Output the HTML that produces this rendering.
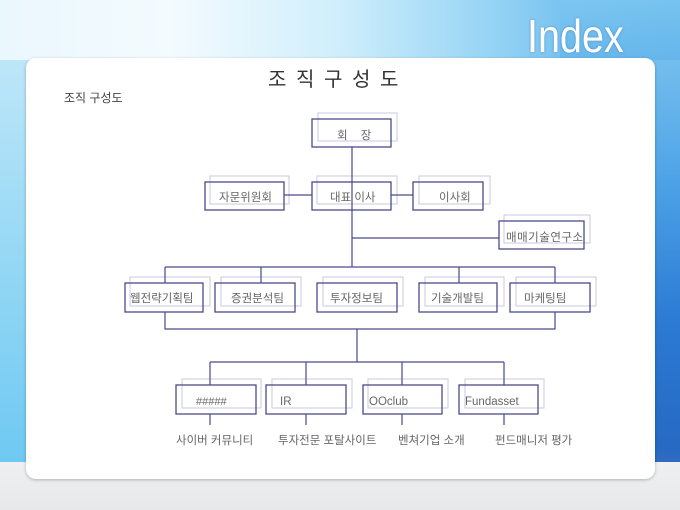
<!DOCTYPE html>
<html><head><meta charset="utf-8">
<style>
html,body{margin:0;padding:0;}
body{width:680px;height:510px;overflow:hidden;position:relative;
background:linear-gradient(180deg,#e9f6fc 0%,#cdeefb 30%,#9fdcf6 60%,#8fd2f3 88%,#eef0f2 90%,#e8eaec 100%);}
.bgr{position:absolute;right:0;top:0;width:120px;height:462px;background:linear-gradient(180deg,#7cc6f0 0%,#3f9ae4 40%,#1f6fd0 70%,#1a5cbc 100%);opacity:.9}
.bgt{position:absolute;left:0;top:0;width:680px;height:60px;background:linear-gradient(90deg,#eaf7fd 0%,#f4fbff 25%,#cfeefb 50%,#8fd0f4 75%,#4aa4e6 100%)}
.bgl{position:absolute;left:0;top:60px;width:30px;height:402px;background:linear-gradient(180deg,#bde6f8,#6ec9f2)}
.bgb{position:absolute;left:0;top:462px;width:680px;height:48px;background:linear-gradient(180deg,#eef0f2,#e6e8ea)}
.panel{position:absolute;left:26px;top:58px;width:629px;height:421px;background:#fff;border-radius:10px;box-shadow:0 1px 3px rgba(0,0,0,.25)}
.idx{position:absolute;left:527px;top:9px;font:46px "Liberation Sans",sans-serif;color:#fff;transform:scaleX(.86);transform-origin:left top;text-shadow:0 0 3px rgba(40,100,180,.5)}
svg{position:absolute;left:0;top:0}
text{font-family:"Liberation Sans","Noto Sans CJK KR","NanumGothic",sans-serif;}
</style></head><body>
<div class="bgt"></div><div class="bgl"></div><div class="bgr"></div><div class="bgb"></div>
<div class="panel"></div>
<div class="idx">Index</div>
<svg width="680" height="510" viewBox="0 0 680 510">
<g fill="#333" font-size="20">
<text x="268" y="86">조</text><text x="296" y="86">직</text><text x="324" y="86">구</text><text x="352" y="86">성</text><text x="380" y="86">도</text>
</g>
<text x="64" y="102" font-size="12" fill="#444">조직 구성도</text>
<g fill="none" stroke="#c9c9dc" stroke-width="1">
<rect x="318" y="113" width="79" height="28"/>
<rect x="210" y="176" width="79" height="28"/>
<rect x="317" y="176" width="80" height="28"/>
<rect x="419" y="176" width="71" height="28"/>
<rect x="504" y="215" width="86" height="28"/>
<rect x="130" y="277" width="80" height="29"/>
<rect x="221" y="277" width="80" height="29"/>
<rect x="323" y="277" width="80" height="29"/>
<rect x="425" y="277" width="79" height="29"/>
<rect x="516" y="277" width="80" height="29"/>
<rect x="182" y="379" width="79" height="29"/>
<rect x="272" y="379" width="80" height="29"/>
<rect x="368" y="379" width="80" height="29"/>
<rect x="465" y="379" width="79" height="29"/>
</g>
<g fill="none" stroke="#4a4a8a" stroke-width="1.2">
<path d="M352 147V267M284 195H312M391 195H413M352 238H499M165 267H555M165 267V283M261 267V283M459 267V283M555 267V283"/>
<path d="M165 312V329H555V312M357 329V362M210 362H504M210 362V385M306 362V385M402 362V385M504 362V385"/>
<path d="M210 414V425M306 414V425M402 414V425M504 414V425"/>
</g>
<g fill="none" stroke="#4a4a8a" stroke-width="1.3">
<rect x="312" y="119" width="79" height="28"/>
<rect x="205" y="182" width="79" height="28"/>
<rect x="312" y="182" width="79" height="28"/>
<rect x="413" y="182" width="70" height="28"/>
<rect x="499" y="221" width="85" height="28"/>
<rect x="125" y="283" width="78" height="29"/>
<rect x="215" y="283" width="80" height="29"/>
<rect x="317" y="283" width="80" height="29"/>
<rect x="419" y="283" width="78" height="29"/>
<rect x="510" y="283" width="80" height="29"/>
<rect x="176" y="385" width="80" height="29"/>
<rect x="266" y="385" width="80" height="29"/>
<rect x="363" y="385" width="79" height="29"/>
<rect x="459" y="385" width="79" height="29"/>
</g>
<g font-size="11.5" fill="#666">
<text x="337" y="139" letter-spacing="5">회 장</text>
<text x="219" y="201">자문위원회</text>
<text x="330" y="201">대표 이사</text>
<text x="439" y="201">이사회</text>
<text x="506" y="241" letter-spacing="0.5">매매기술연구소</text>
<text x="130" y="302">웹전략기획팀</text>
<text x="231" y="302">증권분석팀</text>
<text x="330" y="302">투자정보팀</text>
<text x="431" y="302">기술개발팀</text>
<text x="524" y="302">마케팅팀</text>
<text x="196" y="405" font-size="11">#####</text>
<text x="280" y="405">IR</text>
<text x="369" y="405">OOclub</text>
<text x="465" y="405">Fundasset</text>
<text x="176" y="444">사이버 커뮤니티</text>
<text x="278" y="444">투자전문 포탈사이트</text>
<text x="398" y="444">벤쳐기업 소개</text>
<text x="495" y="444">펀드매니저 평가</text>
</g>
</svg>
</body></html>
